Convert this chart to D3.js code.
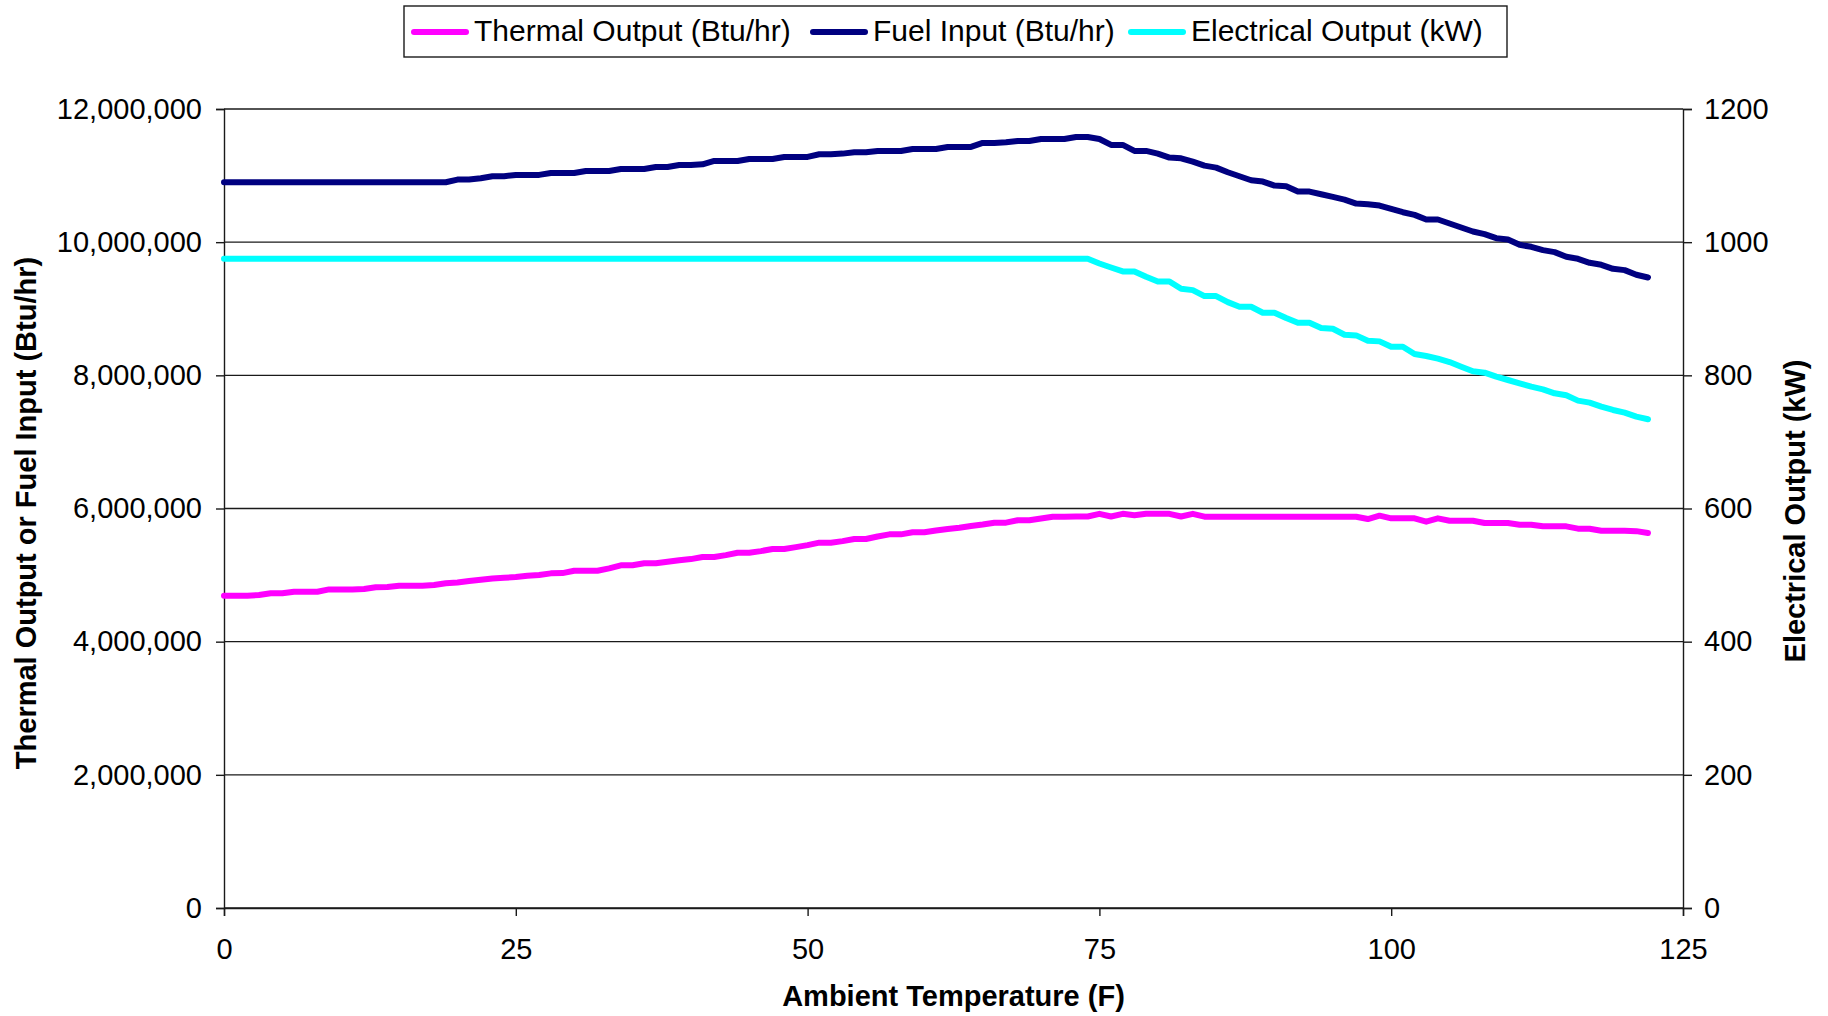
<!DOCTYPE html>
<meta charset="utf-8">
<head>
  <title>Thermal Output, Fuel Input and Electrical Output vs Ambient Temperature</title>
  <script src="https://cdnjs.cloudflare.com/ajax/libs/d3/7.8.5/d3.min.js"></script>
</head>
<style>
  body {
    margin: 0;
    background: white;
    font-family: "Liberation Sans", Arial, sans-serif;
  }
</style>
<body>
<div id="chart"></div>
<script>
// ambient temperature (F), one point per degree
var temps = [0,1,2,3,4,5,6,7,8,9,10,11,12,13,14,15,16,17,18,19,20,21,22,23,24,25,26,27,28,29,
  30,31,32,33,34,35,36,37,38,39,40,41,42,43,44,45,46,47,48,49,50,51,52,53,54,55,56,57,58,59,
  60,61,62,63,64,65,66,67,68,69,70,71,72,73,74,75,76,77,78,79,80,81,82,83,84,85,86,87,88,89,
  90,91,92,93,94,95,96,97,98,99,100,101,102,103,104,105,106,107,108,109,110,111,112,113,114,
  115,116,117,118,119,120,121,122];

// Thermal Output (Btu/hr)
var thermal = [4690000,4690000,4690000,4700000,4726000,4726000,4750000,4750000,4750000,4785000,
  4785000,4785000,4790000,4816000,4820000,4840000,4840000,4840000,4850000,4876000,
  4890000,4910000,4930000,4950000,4960000,4970000,4990000,5000000,5026000,5030000,
  5066000,5066000,5066000,5100000,5147000,5147000,5177000,5177000,5200000,5222000,
  5240000,5272000,5272000,5300000,5336000,5336000,5360000,5392000,5392000,5420000,
  5450000,5487000,5487000,5510000,5542000,5542000,5580000,5612000,5612000,5643000,
  5643000,5670000,5692000,5710000,5737000,5760000,5787000,5787000,5823000,5823000,
  5850000,5877000,5877000,5880000,5880000,5920000,5880000,5920000,5900000,5920000,
  5920000,5920000,5880000,5920000,5877000,5877000,5877000,5877000,5877000,5877000,
  5877000,5877000,5877000,5877000,5877000,5877000,5877000,5877000,5842000,5892000,
  5852000,5852000,5852000,5802000,5852000,5817000,5817000,5817000,5782000,5782000,
  5782000,5757000,5757000,5732000,5732000,5732000,5697000,5697000,5667000,5667000,
  5667000,5660000,5632000];

// Fuel Input (Btu/hr)
var fuel = [10900000,10900000,10900000,10900000,10900000,10900000,10900000,10900000,10900000,10900000,
  10900000,10900000,10900000,10900000,10900000,10900000,10900000,10900000,10900000,10900000,
  10940000,10940000,10960000,10990000,10990000,11010000,11010000,11010000,11040000,11040000,
  11040000,11070000,11070000,11070000,11100000,11100000,11100000,11130000,11130000,11160000,
  11160000,11170000,11220000,11220000,11220000,11250000,11250000,11250000,11280000,11280000,
  11280000,11320000,11320000,11330000,11350000,11350000,11370000,11370000,11370000,11400000,
  11400000,11400000,11430000,11430000,11430000,11490000,11490000,11500000,11520000,11520000,
  11550000,11550000,11550000,11580000,11580000,11550000,11460000,11460000,11370000,11370000,
  11330000,11270000,11260000,11210000,11150000,11120000,11050000,10990000,10930000,10910000,
  10850000,10840000,10760000,10760000,10720000,10680000,10640000,10580000,10570000,10550000,
  10500000,10450000,10410000,10340000,10340000,10280000,10220000,10160000,10120000,10060000,
  10040000,9960000,9930000,9880000,9850000,9780000,9750000,9690000,9660000,9600000,
  9580000,9510000,9470000];

// Electrical Output (kW), right axis
var electrical = [975,975,975,975,975,975,975,975,975,975,975,975,975,975,975,975,975,975,975,975,
  975,975,975,975,975,975,975,975,975,975,975,975,975,975,975,975,975,975,975,975,
  975,975,975,975,975,975,975,975,975,975,975,975,975,975,975,975,975,975,975,975,
  975,975,975,975,975,975,975,975,975,975,975,975,975,975,975,968,962,956,956,948,
  941,941,930,928,919,919,910,903,903,894,894,886,879,879,871,870,861,860,852,851,
  843,843,832,829,825,820,813,806,804,798,793,788,783,779,773,770,762,759,753,748,
  744,738,734];

var xTicks = [0, 25, 50, 75, 100, 125];
var leftTicks = [0, 2000000, 4000000, 6000000, 8000000, 10000000, 12000000];
var rightTicks = [0, 200, 400, 600, 800, 1000, 1200];

var seriesNames = ["Thermal Output (Btu/hr)", "Fuel Input (Btu/hr)", "Electrical Output (kW)"];
var seriesColors = ["#ff00ff", "#000080", "#00ffff"];

var WIDTH = 1828, HEIGHT = 1016;
var plotLeft = 224, plotRight = 1683, plotTop = 109, plotBottom = 908;

var svg = d3.select("#chart").append("svg")
  .attr("width", WIDTH)
  .attr("height", HEIGHT);

var x = d3.scaleLinear().domain([0, 125]).range([plotLeft, plotRight]);
var yL = d3.scaleLinear().domain([0, 12000000]).range([plotBottom, plotTop]);
var yR = d3.scaleLinear().domain([0, 1200]).range([plotBottom, plotTop]);

// gridlines
svg.append("g")
  .selectAll("line")
  .data(leftTicks)
  .enter().append("line")
  .attr("x1", plotLeft).attr("x2", plotRight)
  .attr("y1", function(d) { return yL(d); })
  .attr("y2", function(d) { return yL(d); })
  .attr("stroke", "#1a1a1a")
  .attr("stroke-width", 1.4);

// left axis
var axL = svg.append("g")
  .attr("transform", "translate(" + plotLeft + ",0)")
  .call(d3.axisLeft(yL).tickValues(leftTicks).tickFormat(d3.format(",")).tickSize(8).tickPadding(14));

// right axis (no thousands separator here)
var axR = svg.append("g")
  .attr("transform", "translate(" + plotRight + ",0)")
  .call(d3.axisRight(yR).tickValues(rightTicks).tickFormat(d3.format("d")).tickSize(9).tickPadding(12));

// bottom axis
var axB = svg.append("g")
  .attr("transform", "translate(0," + plotBottom + ")")
  .call(d3.axisBottom(x).tickValues(xTicks).tickSize(8).tickPadding(22));

[axL, axR, axB].forEach(function(a) {
  a.select(".domain").attr("stroke", "#1a1a1a").attr("stroke-width", 1.4);
  a.selectAll(".tick line").attr("stroke", "#1a1a1a").attr("stroke-width", 1.4);
  a.selectAll("text")
    .attr("fill", "black")
    .style("font-family", "'Liberation Sans', Arial, sans-serif")
    .style("font-size", "29px");
});
axB.selectAll("text").attr("dy", "0.71em");

// lines
var lineL = d3.line()
  .x(function(d, i) { return x(temps[i]); })
  .y(function(d) { return yL(d); });
var lineR = d3.line()
  .x(function(d, i) { return x(temps[i]); })
  .y(function(d) { return yR(d); });

[[thermal, lineL, 0], [fuel, lineL, 1], [electrical, lineR, 2]].forEach(function(s) {
  svg.append("path")
    .datum(s[0])
    .attr("d", s[1])
    .attr("fill", "none")
    .attr("stroke", seriesColors[s[2]])
    .attr("stroke-width", 6)
    .attr("stroke-linejoin", "round")
    .attr("stroke-linecap", "round");
});

// axis titles
svg.append("text")
  .attr("x", (plotLeft + plotRight) / 2)
  .attr("y", 998)
  .attr("text-anchor", "middle")
  .attr("dominant-baseline", "middle")
  .style("font-size", "29px")
  .style("font-weight", "bold")
  .text("Ambient Temperature (F)");

svg.append("text")
  .attr("transform", "translate(28," + 513 + ") rotate(-90)")
  .attr("text-anchor", "middle")
  .attr("dominant-baseline", "middle")
  .style("font-size", "29px")
  .style("font-weight", "bold")
  .text("Thermal Output or Fuel Input (Btu/hr)");

svg.append("text")
  .attr("transform", "translate(1797," + 511 + ") rotate(-90)")
  .attr("text-anchor", "middle")
  .attr("dominant-baseline", "middle")
  .style("font-size", "29px")
  .style("font-weight", "bold")
  .text("Electrical Output (kW)");

// legend
var legend = svg.append("g");
legend.append("rect")
  .attr("x", 404).attr("y", 6)
  .attr("width", 1103).attr("height", 51)
  .attr("fill", "white")
  .attr("stroke", "#1a1a1a")
  .attr("stroke-width", 1.4);

var legX = [414, 813, 1131];
seriesNames.forEach(function(name, i) {
  legend.append("line")
    .attr("x1", legX[i]).attr("x2", legX[i] + 52)
    .attr("y1", 32).attr("y2", 32)
    .attr("stroke", seriesColors[i])
    .attr("stroke-width", 6)
    .attr("stroke-linecap", "round");
  legend.append("text")
    .attr("x", legX[i] + 60)
    .attr("y", 33)
    .attr("dominant-baseline", "middle")
    .style("font-size", "30px")
    .text(name);
});
</script>
</body>
